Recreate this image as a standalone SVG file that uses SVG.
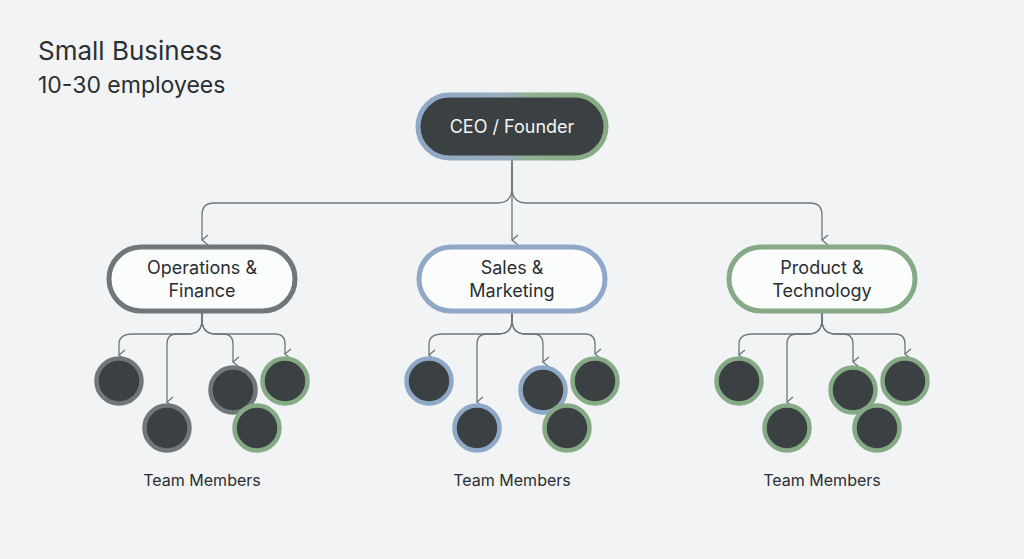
<svg xmlns="http://www.w3.org/2000/svg" width="1024" height="559" viewBox="0 0 1024 559">
<defs>
<linearGradient id="ceoG" x1="0" x2="1" y1="0" y2="0"><stop offset="0" stop-color="#8fa8c6"/><stop offset="0.45" stop-color="#98abc0"/><stop offset="0.6" stop-color="#8fb08e"/><stop offset="1" stop-color="#86aa84"/></linearGradient>
<marker id="ar" markerWidth="12" markerHeight="12" refX="6" refY="9" orient="auto" markerUnits="userSpaceOnUse" viewBox="0 0 12 12"><path d="M1,3 L6,9 L11,3" fill="none" stroke="#6f777b" stroke-width="1.3"/></marker>
<g id="team">
<path d="M0,313 V320 Q0,334 -14,334 H-69 Q-83,334 -83,344 V355" class="c"/>
<path d="M0,313 V320 Q0,334 -14,334 H-25 Q-35,334 -35,344 V402" class="c"/>
<path d="M0,313 V320 Q0,334 14,334 H21 Q31,334 31,344 V362" class="c"/>
<path d="M0,313 V320 Q0,334 14,334 H73 Q83,334 83,344 V354" class="c"/>
</g>
</defs>
<style>
.c{fill:none;stroke:#6f777b;stroke-width:1.3;marker-end:url(#ar)}
.t{font-family:Inter,"Liberation Sans",sans-serif;fill:#2b2f31}
.pill{fill:#fbfcfc;stroke-width:5}
.dot{fill:#3b4042;stroke-width:4.5}
.gray{stroke:#6f777b}.blue{stroke:#8fa8c8}.green{stroke:#86aa86}
</style>
<rect width="1024" height="559" fill="#f1f3f4"/>
<text class="t" x="38" y="60" font-size="26">Small Business</text>
<text class="t" x="38" y="93" font-size="23" fill="#3a3f42">10-30 employees</text>

<g id="connectors">
<path d="M512,160 V240" class="c"/>
<path d="M512,160 V188 Q512,203 497,203 H214 Q202,203 202,215 V240" class="c"/>
<path d="M512,160 V188 Q512,203 527,203 H810 Q822,203 822,215 V240" class="c"/>
<use href="#team" x="202"/>
<use href="#team" x="512"/>
<use href="#team" x="822"/>
</g>

<g id="ceo">
<rect x="418" y="95" width="188" height="63" rx="31.5" fill="#3b4042" stroke="url(#ceoG)" stroke-width="5"/>
<text class="t" x="512" y="133" font-size="18" fill="#f4f5f5" style="fill:#f4f5f5" text-anchor="middle">CEO / Founder</text>
</g>
<g id="ops">
<rect x="109" y="247" width="186" height="64" rx="32" class="pill gray"/>
<text class="t" x="202" y="274" font-size="18" text-anchor="middle">Operations &amp;</text>
<text class="t" x="202" y="297" font-size="18" text-anchor="middle">Finance</text>
</g>
<g id="sales">
<rect x="419" y="247" width="186" height="64" rx="32" class="pill blue"/>
<text class="t" x="512" y="274" font-size="18" text-anchor="middle">Sales &amp;</text>
<text class="t" x="512" y="297" font-size="18" text-anchor="middle">Marketing</text>
</g>
<g id="product">
<rect x="729" y="247" width="186" height="64" rx="32" class="pill green"/>
<text class="t" x="822" y="274" font-size="18" text-anchor="middle">Product &amp;</text>
<text class="t" x="822" y="297" font-size="18" text-anchor="middle">Technology</text>
</g>

<g id="ops-team">
<circle cx="119" cy="381" r="22.5" class="dot gray"/>
<circle cx="167" cy="428" r="22.5" class="dot gray"/>
<circle cx="233" cy="390" r="22.5" class="dot gray"/>
<circle cx="285" cy="381" r="22.5" class="dot green"/>
<circle cx="257" cy="428" r="22.5" class="dot green"/>
<text class="t" x="202" y="486" font-size="16" text-anchor="middle">Team Members</text>
</g>
<g id="sales-team">
<circle cx="429" cy="381" r="22.5" class="dot blue"/>
<circle cx="477" cy="428" r="22.5" class="dot blue"/>
<circle cx="543" cy="390" r="22.5" class="dot blue"/>
<circle cx="595" cy="381" r="22.5" class="dot green"/>
<circle cx="567" cy="428" r="22.5" class="dot green"/>
<text class="t" x="512" y="486" font-size="16" text-anchor="middle">Team Members</text>
</g>
<g id="product-team">
<circle cx="739" cy="381" r="22.5" class="dot green"/>
<circle cx="787" cy="428" r="22.5" class="dot green"/>
<circle cx="853" cy="390" r="22.5" class="dot green"/>
<circle cx="905" cy="381" r="22.5" class="dot green"/>
<circle cx="877" cy="428" r="22.5" class="dot green"/>
<text class="t" x="822" y="486" font-size="16" text-anchor="middle">Team Members</text>
</g>
</svg>
